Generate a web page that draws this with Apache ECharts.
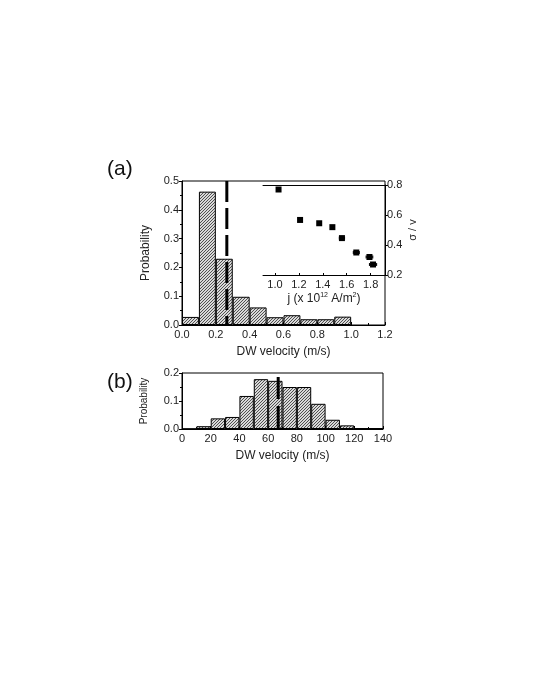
<!DOCTYPE html>
<html>
<head>
<meta charset="utf-8">
<script src="https://cdn.jsdelivr.net/npm/echarts@6/dist/echarts.min.js"></script>
<style>
html,body{margin:0;padding:0;background:#fff;}
#chart{width:540px;height:699px;}
</style>
</head>
<body>
<div id="chart"></div>
<script>
// ---- data ----
// panel (a): histogram of DW velocity (bins of 0.1 m/s)
const binsA = ['0.0-0.1','0.1-0.2','0.2-0.3','0.3-0.4','0.4-0.5','0.5-0.6','0.6-0.7','0.7-0.8','0.8-0.9','0.9-1.0','1.0-1.1','1.1-1.2'];
const probA = [0.028, 0.463, 0.230, 0.098, 0.061, 0.027, 0.034, 0.020, 0.020, 0.029, null, null];
const meanA = 0.265;
const xTicksA = [0, 1.2, 0.2];
// panel (b): histogram of DW velocity (bins of 10 m/s)
const binsB = ['0-10','10-20','20-30','30-40','40-50','50-60','60-70','70-80','80-90','90-100','100-110','110-120','120-130','130-140'];
const probB = [0, 0.010, 0.038, 0.043, 0.118, 0.178, 0.172, 0.150, 0.150, 0.090, 0.033, 0.013, 0.003, 0.003];
const meanB = 67;
// inset: sigma/v versus current density j
const insetJ = [1.03, 1.21, 1.37, 1.48, 1.56, 1.68, 1.79, 1.82];
const insetSigma = [0.770, 0.567, 0.545, 0.519, 0.446, 0.350, 0.320, 0.270];
const insetErrJ = [0, 0, 0, 0, 0.022, 0.025, 0.028, 0.030];
const insetTicks = [1.0, 1.2, 1.4, 1.6, 1.8];

// ---- hatch pattern ----
function hatch() {
  const c = document.createElement('canvas');
  c.width = 3; c.height = 3;
  const g = c.getContext('2d');
  g.fillStyle = '#d9d9d9'; g.fillRect(0,0,3,3);
  g.fillStyle = '#505050';
  g.fillRect(0,2,1,1); g.fillRect(1,1,1,1); g.fillRect(2,0,1,1);
  return c;
}
const pat = {image: hatch(), repeat: 'repeat'};

const FONT = 'Liberation Sans, Arial, sans-serif';
const TXT = '#222';
const lab = {color: TXT, fontFamily: FONT, fontSize: 11};

const chart = echarts.init(document.getElementById('chart'), null, {renderer: 'canvas'});

const option = {
  animation: false,
  backgroundColor: '#fff',
  textStyle: {fontFamily: FONT, color: TXT},
  graphic: [
    {type: 'text', left: 107, top: 159, style: {text: '(a)', fontSize: 21, fontFamily: FONT, fill: '#111'}},
    {type: 'text', left: 107, top: 372, style: {text: '(b)', fontSize: 21, fontFamily: FONT, fill: '#111'}}
  ],
  grid: [
    {left: 182, top: 181, width: 203, height: 144, show: true, borderColor: '#000', borderWidth: 1, backgroundColor: 'transparent'},
    {left: 182, top: 373, width: 201, height: 56, show: true, borderColor: '#000', borderWidth: 1, backgroundColor: 'transparent'},
    {left: 263, top: 185, width: 122, height: 90, show: false}
  ],
  xAxis: [
    // 0: category for bars (a)
    {type: 'category', gridIndex: 0, data: binsA, show: false, position: 'top', boundaryGap: true},
    // 1: value axis (a)
    {type: 'value', gridIndex: 0, position: 'bottom', min: xTicksA[0], max: xTicksA[1], interval: xTicksA[2],
     axisLine: {show: true, onZero: false, lineStyle: {color: '#000'}},
     axisTick: {show: true, inside: true, length: 3, lineStyle: {color: '#000'}},
     minorTick: {show: true, splitNumber: 2, length: 2, lineStyle: {color: '#000'}},
     splitLine: {show: false},
     axisLabel: Object.assign({margin: 4, formatter: v => v.toFixed(1)}, lab),
     name: 'DW velocity (m/s)', nameLocation: 'middle', nameGap: 21,
     nameTextStyle: {fontSize: 12, color: TXT, fontFamily: FONT}},
    // 2: category for bars (b)
    {type: 'category', gridIndex: 1, data: binsB, show: false, position: 'top', boundaryGap: true},
    // 3: value axis (b)
    {type: 'value', gridIndex: 1, position: 'bottom', min: 0, max: 140, interval: 20,
     axisLine: {show: true, onZero: false, lineStyle: {color: '#000'}},
     axisTick: {show: true, inside: true, length: 3, lineStyle: {color: '#000'}},
     minorTick: {show: true, splitNumber: 2, length: 2, lineStyle: {color: '#000'}},
     splitLine: {show: false},
     axisLabel: Object.assign({margin: 4}, lab),
     name: 'DW velocity (m/s)', nameLocation: 'middle', nameGap: 21,
     nameTextStyle: {fontSize: 12, color: TXT, fontFamily: FONT}},
    // 4: inset bottom axis
    {type: 'value', gridIndex: 2, min: 0.9, max: 1.92, position: 'bottom',
     axisLine: {show: true, onZero: false, lineStyle: {color: '#000'}},
     axisTick: {show: true, inside: true, length: 2, customValues: insetTicks, lineStyle: {color: '#000'}},
     splitLine: {show: false},
     axisLabel: Object.assign({margin: 4, customValues: insetTicks, formatter: v => v.toFixed(1)}, lab),
     name: 'j (x 10{s|12} A/m{s|2})', nameLocation: 'middle', nameGap: 17,
     nameTextStyle: {fontSize: 12, color: TXT, fontFamily: FONT,
       rich: {s: {fontSize: 7, verticalAlign: 'top', padding: [0,0,6,0], color: TXT, fontFamily: FONT}}}},
    // 5: inset top line
    {type: 'value', gridIndex: 2, min: 0.9, max: 1.92, position: 'top',
     axisLine: {show: true, onZero: false, lineStyle: {color: '#000'}},
     axisTick: {show: false}, axisLabel: {show: false}, splitLine: {show: false}}
  ],
  yAxis: [
    {type: 'value', gridIndex: 0, min: 0, max: 0.5, interval: 0.1,
     axisLine: {show: true, lineStyle: {color: '#000'}},
     axisTick: {show: true, length: 3, lineStyle: {color: '#000'}},
     minorTick: {show: true, splitNumber: 2, length: 2, lineStyle: {color: '#000'}},
     splitLine: {show: false},
     axisLabel: Object.assign({margin: 3, formatter: v => v.toFixed(1)}, lab),
     name: 'Probability', nameLocation: 'middle', nameGap: 30, nameRotate: 90,
     nameTextStyle: {fontSize: 12, color: TXT, fontFamily: FONT}},
    {type: 'value', gridIndex: 1, min: 0, max: 0.2, interval: 0.1,
     axisLine: {show: true, lineStyle: {color: '#000'}},
     axisTick: {show: true, length: 3, lineStyle: {color: '#000'}},
     minorTick: {show: true, splitNumber: 2, length: 2, lineStyle: {color: '#000'}},
     splitLine: {show: false},
     axisLabel: Object.assign({margin: 3, formatter: v => v.toFixed(1)}, lab),
     name: 'Probability', nameLocation: 'middle', nameGap: 33, nameRotate: 90,
     nameTextStyle: {fontSize: 10, color: TXT, fontFamily: FONT}},
    {type: 'value', gridIndex: 2, min: 0.2, max: 0.8, interval: 0.2, position: 'right',
     axisLine: {show: true, lineStyle: {color: '#000'}},
     axisTick: {show: true, length: 3, lineStyle: {color: '#000'}},
     splitLine: {show: false},
     axisLabel: Object.assign({margin: 2, formatter: v => v.toFixed(1)}, lab),
     name: 'σ / v', nameLocation: 'middle', nameGap: 22, nameRotate: 90,
     nameTextStyle: {fontSize: 11, color: TXT, fontFamily: FONT}}
  ],
  series: [
    {type: 'bar', xAxisIndex: 0, yAxisIndex: 0, data: probA, barCategoryGap: '0%',
     itemStyle: {color: pat, borderColor: '#000', borderWidth: 1}, z: 2},
    {type: 'line', xAxisIndex: 1, yAxisIndex: 0, data: [[meanA, 0.5], [meanA, 0]], symbol: 'none',
     lineStyle: {color: '#000', width: 3, type: [21, 6]}, z: 5},
    {type: 'bar', xAxisIndex: 2, yAxisIndex: 1, data: probB, barCategoryGap: '0%',
     itemStyle: {color: pat, borderColor: '#000', borderWidth: 1}, z: 2},
    {type: 'line', xAxisIndex: 3, yAxisIndex: 1, data: [[meanB, 0.186], [meanB, 0]], symbol: 'none',
     lineStyle: {color: '#000', width: 3, type: [22, 7]}, z: 5},
    {type: 'custom', xAxisIndex: 4, yAxisIndex: 2, z: 6,
     data: insetJ.map((j, i) => [j, insetSigma[i], insetErrJ[i]]),
     renderItem: function (params, api) {
       const x = api.value(0), y = api.value(1), e = api.value(2);
       if (!e) return null;
       const a = api.coord([x - e, y]), b = api.coord([x + e, y]);
       const st = {stroke: '#000', lineWidth: 1};
       return {type: 'group', children: [
         {type: 'line', shape: {x1: a[0], y1: a[1], x2: b[0], y2: b[1]}, style: st},
         {type: 'line', shape: {x1: a[0], y1: a[1] - 1.5, x2: a[0], y2: a[1] + 1.5}, style: st},
         {type: 'line', shape: {x1: b[0], y1: b[1] - 1.5, x2: b[0], y2: b[1] + 1.5}, style: st}
       ]};
     }},
    {type: 'scatter', xAxisIndex: 4, yAxisIndex: 2, symbol: 'rect', symbolSize: 6,
     data: insetJ.map((j, i) => [j, insetSigma[i]]),
     itemStyle: {color: '#000', opacity: 1}, z: 7}
  ]
};
chart.setOption(option);
</script>
</body>
</html>
